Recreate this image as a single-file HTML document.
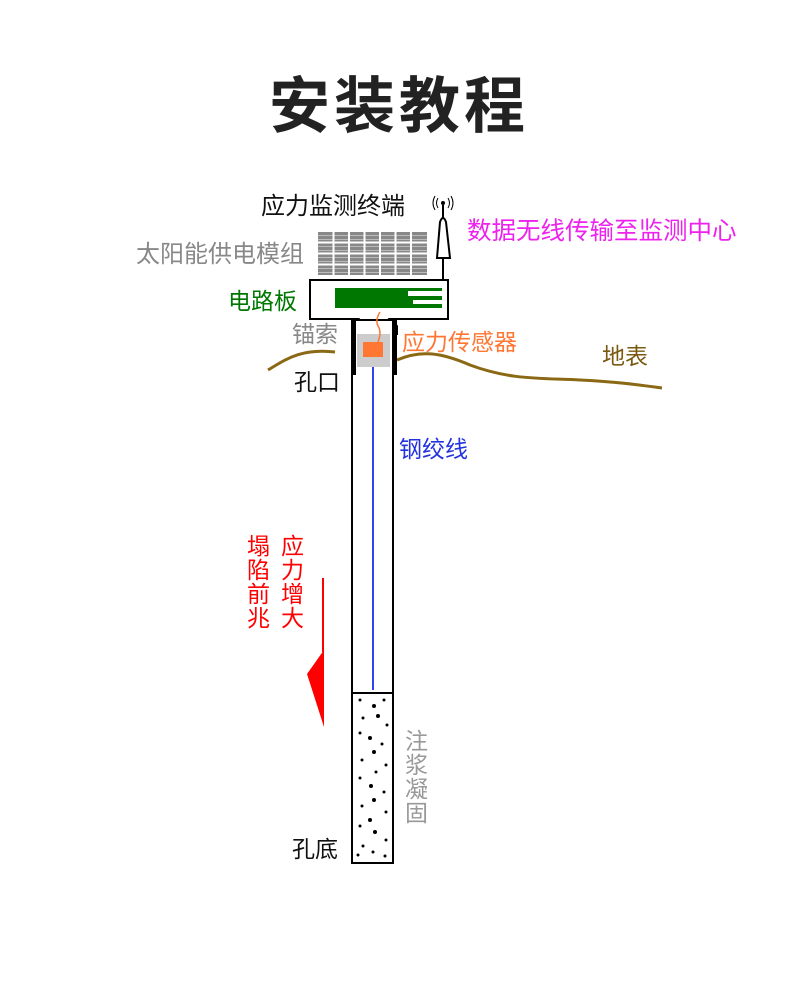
<!DOCTYPE html>
<html><head><meta charset="utf-8"><style>
body{margin:0;background:#fff;width:790px;height:991px;overflow:hidden;font-family:"Liberation Sans","Noto Sans CJK SC",sans-serif;}
.t{position:absolute;white-space:nowrap;font-family:"Liberation Sans","Noto Sans CJK SC",sans-serif;line-height:1;}
.v{white-space:normal;width:24px;line-height:24px;}
</style></head><body>
<div class="t" style="left:269px;top:76px;font-size:61px;font-weight:bold;color:#222;letter-spacing:4px;">安装教程</div>
<svg width="790" height="991" style="position:absolute;left:0;top:0">
<path d="M268,370 C285,360 300,348 335,352" stroke="#8B6914" stroke-width="3" fill="none"/>
<path d="M397,360 C420,350 440,352 470,365 C510,380 540,378 580,380 C620,382 640,385 662,388" stroke="#8B6914" stroke-width="3" fill="none"/>
<rect x="318" y="232" width="109" height="43" fill="#888"/>
<g stroke="#bbb" stroke-width="1">
<path d="M318,235.5H427M318,239.5H427M318,246.5H427M318,250.5H427M318,257.5H427M318,261.5H427M318,268.5H427M318,272.5H427"/>
</g>
<g stroke="#fff" stroke-width="2">
<line x1="333.5" y1="232" x2="333.5" y2="275"/><line x1="349" y1="232" x2="349" y2="275"/><line x1="364.5" y1="232" x2="364.5" y2="275"/><line x1="380" y1="232" x2="380" y2="275"/><line x1="395.5" y1="232" x2="395.5" y2="275"/><line x1="411" y1="232" x2="411" y2="275"/>
<line x1="318" y1="242.5" x2="427" y2="242.5"/><line x1="318" y1="253.5" x2="427" y2="253.5"/><line x1="318" y1="264.5" x2="427" y2="264.5"/>
</g>
<line x1="443" y1="205" x2="443" y2="281" stroke="#000" stroke-width="2"/>
<path d="M437,258 L440,222 Q443,214 446,222 L450,258 Z" fill="#fff" stroke="#000" stroke-width="2"/>
<circle cx="443" cy="203" r="2" fill="#000"/>
<path d="M438,198 Q435,203 438,208 M448,198 Q451,203 448,208 M435,196 Q431,203 435,210 M451,196 Q455,203 451,210" stroke="#000" fill="none" stroke-width="1"/>
<path d="M352,335 L352,326 L358,319 L310,319 L310,280 L448,280 L448,319 L390,319 L397,326 L397,335" fill="#fff" stroke="#000" stroke-width="2"/>
<rect x="335" y="288" width="107" height="20" fill="#007700"/>
<rect x="408" y="291" width="34" height="5" fill="#fff"/>
<rect x="413" y="300" width="29" height="4" fill="#fff"/>
<rect x="352" y="320" width="41" height="543" fill="#fff" stroke="#000" stroke-width="2"/>
<rect x="351" y="320" width="5" height="55" fill="#000"/>
<rect x="392" y="320" width="5" height="55" fill="#000"/>
<line x1="373" y1="345" x2="373" y2="690" stroke="#3344ee" stroke-width="2"/>
<rect x="357" y="334" width="33" height="33" fill="#ccc"/>
<rect x="363" y="342" width="20" height="15" fill="#ff7733"/>
<path d="M378,342 Q382,332 378,326 Q375,320 380,312" stroke="#ff7733" fill="none" stroke-width="1.5"/>
<line x1="352" y1="693" x2="393" y2="693" stroke="#000" stroke-width="2"/>
<g fill="#000">
<circle cx="360" cy="700" r="1.5"/><circle cx="374" cy="706" r="2"/><circle cx="384" cy="700" r="1.5"/><circle cx="363" cy="718" r="1.5"/><circle cx="378" cy="716" r="2"/><circle cx="387" cy="725" r="1.5"/><circle cx="360" cy="733" r="1.5"/><circle cx="370" cy="738" r="2"/><circle cx="382" cy="744" r="1.5"/><circle cx="374" cy="752" r="2"/><circle cx="362" cy="760" r="1.5"/><circle cx="386" cy="765" r="1.5"/><circle cx="376" cy="772" r="1.5"/><circle cx="360" cy="778" r="1.5"/><circle cx="371" cy="786" r="2"/><circle cx="384" cy="792" r="1.5"/><circle cx="374" cy="800" r="2"/><circle cx="362" cy="806" r="1.5"/><circle cx="386" cy="812" r="1.5"/><circle cx="370" cy="820" r="2"/><circle cx="360" cy="826" r="1.5"/><circle cx="375" cy="832" r="2"/><circle cx="386" cy="840" r="1.5"/><circle cx="363" cy="846" r="1.5"/><circle cx="373" cy="852" r="1.5"/><circle cx="385" cy="856" r="1.5"/><circle cx="358" cy="855" r="1.5"/>
</g>
<line x1="323" y1="578" x2="323" y2="652" stroke="#f00" stroke-width="2"/>
<path d="M324,650 L307,674 L324,727 Z" fill="#f00"/>
</svg>
<div class="t" style="left:261px;top:195px;font-size:24px;color:#111;">应力监测终端</div>
<div class="t" style="left:136px;top:243px;font-size:24px;color:#888;">太阳能供电模组</div>
<div class="t" style="left:467px;top:220px;font-size:24.5px;color:#ee22ee;">数据无线传输至监测中心</div>
<div class="t" style="left:228px;top:290px;font-size:23px;color:#007700;">电路板</div>
<div class="t" style="left:292px;top:323px;font-size:23px;color:#888;">锚索</div>
<div class="t" style="left:402px;top:331px;font-size:23px;color:#ff7733;">应力传感器</div>
<div class="t" style="left:602px;top:345px;font-size:23px;color:#7a5a10;">地表</div>
<div class="t" style="left:294px;top:371px;font-size:23px;color:#111;">孔口</div>
<div class="t" style="left:399px;top:438px;font-size:23px;color:#2233dd;">钢绞线</div>
<div class="t v" style="left:247px;top:534px;font-size:23px;color:#f00;">塌陷前兆</div>
<div class="t v" style="left:281px;top:534px;font-size:23px;color:#f00;">应力增大</div>
<div class="t v" style="left:405px;top:729px;font-size:23px;color:#999;">注浆凝固</div>
<div class="t" style="left:292px;top:838px;font-size:23px;color:#111;">孔底</div>
</body></html>
